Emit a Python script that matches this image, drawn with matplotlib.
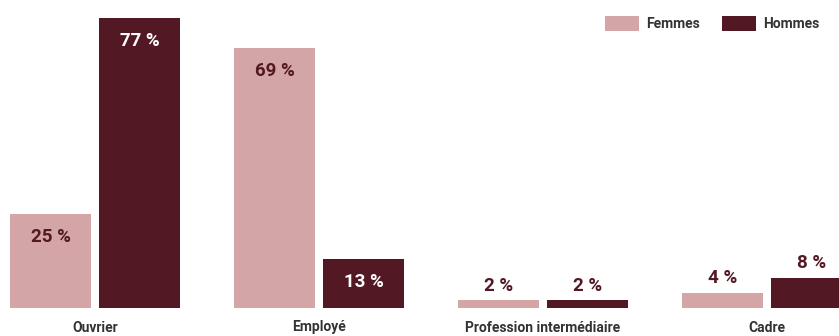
import numpy as np
import matplotlib
matplotlib.use("Agg")
import matplotlib.pyplot as plt

categories = ["Ouvrier", "Employé", "Profession intermédiaire", "Cadre"]
femmes = [25, 69, 2, 4]
hommes = [77, 13, 2, 8]
series_names = ["Femmes", "Hommes"]

PINK = "#d4a5a6"
DARK = "#521823"
GREY = "#333333"

plt.rcParams["font.family"] = ["Roboto", "DejaVu Sans"]
plt.rcParams["font.weight"] = "bold"

fig = plt.figure(figsize=(8.39, 3.36), dpi=100)
ax = fig.add_axes([0, 28 / 336, 1, 308 / 336])

x = np.arange(len(categories))
w = 81 / 224
off = 89 / 2 / 224

bars_f = ax.bar(x - off, femmes, w, color=PINK, label=series_names[0])
bars_h = ax.bar(x + off, hommes, w, color=DARK, label=series_names[1])

ax.set_xlim(-95 / 224, (839 - 95) / 224)
ax.set_ylim(0, 308 / 3.77)


def label_bars(bars, values, inside_color):
    for b, v in zip(bars, values):
        cx = b.get_x() + b.get_width() / 2
        if v >= 10:
            ax.annotate(f"{v} %", (cx, v), xytext=(0, -10), textcoords="offset points",
                        ha="center", va="top", fontsize=13.5, fontweight="bold",
                        color=inside_color)
        else:
            ax.annotate(f"{v} %", (cx, v), xytext=(0, 4), textcoords="offset points",
                        ha="center", va="bottom", fontsize=13.5, fontweight="bold",
                        color=DARK)


label_bars(bars_f, femmes, DARK)
label_bars(bars_h, hommes, "white")

ax.set_xticks(x)
ax.set_xticklabels(categories, fontsize=10, fontweight="bold", color=GREY)
ax.tick_params(axis="x", length=0, pad=9)
ax.set_yticks([])
for s in ax.spines.values():
    s.set_visible(False)

leg = ax.legend(loc="upper right", bbox_to_anchor=(0.983, 0.965), ncol=2, frameon=False,
                fontsize=10, handlelength=2.45, handleheight=1.2,
                handletextpad=0.5, columnspacing=1.6, borderaxespad=0)
for t in leg.get_texts():
    t.set_color(GREY)
    t.set_fontweight("bold")

fig.savefig("out.png", dpi=100)
